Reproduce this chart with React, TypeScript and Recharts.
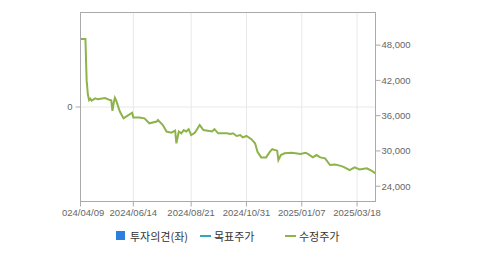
import React from "react";
import {
  LineChart,
  Line,
  XAxis,
  YAxis,
  CartesianGrid,
  ReferenceArea,
} from "recharts";

// trading-day index since 2024/04/09
const tradingDays = [
  0, 4, 5, 6, 7, 8, 9, 12, 14, 20, 24, 25, 26, 27, 28, 29, 32, 35, 39, 42, 43,
  48, 52, 56, 62, 63, 67, 70, 74, 77, 78, 80, 82, 84, 86, 88, 90, 93, 97, 100,
  107, 109, 112, 119, 122, 124, 127, 130, 132, 135, 139, 142, 144, 147, 151,
  154, 156, 160, 161, 163, 166, 172, 179, 183, 185, 189, 192, 195, 199, 203,
  207, 211, 214, 219, 223, 227, 233, 237, 240,
];

// 수정주가 (adjusted price)
const adjustedPrice = [
  49050, 49050, 42000, 39600, 38650, 38900, 38550, 38950, 38780, 39000, 38650,
  38600, 36800, 38200, 39050, 38600, 36700, 35550, 36100, 36500, 35700, 35700,
  35550, 34700, 35000, 35250, 34400, 33300, 33100, 33450, 31300, 33300, 33000,
  33550, 33300, 33700, 32700, 33100, 34400, 33550, 33300, 33700, 33000, 33000,
  32900, 33000, 32550, 32700, 32300, 32550, 32000, 31300, 29850, 28900, 28900,
  29850, 30300, 30050, 28450, 29300, 29600, 29700, 29500, 29700, 29500, 28900,
  29300, 28900, 28750, 27600, 27700, 27500, 27300, 26750, 27200, 26850, 27050,
  26600, 26200,
];

const xTickDays = [0, 43, 90, 135, 180, 225];
const xTickLabels = [
  "2024/04/09",
  "2024/06/14",
  "2024/08/21",
  "2024/10/31",
  "2025/01/07",
  "2025/03/18",
];
const priceTicks = [24000, 30000, 36000, 42000, 48000];
const opinionTicks = [0];

const legendNames = ["투자의견(좌)", "목표주가", "수정주가"];
const legendColors = ["#2D7FDF", "#2FA8B8", "#8DB34A"];

const data = tradingDays.map((d, i) => ({
  day: d,
  price: adjustedPrice[i],
  target: null as number | null,
  opinion: 0,
}));

const fmt = (v: number) =>
  String(v).replace(/\B(?=(\d{3})+(?!\d))/g, ",");

const tickStyle = {
  fontFamily: "'Liberation Sans', Arial, sans-serif",
  fontSize: 9.5,
  fill: "#666",
};

export default function App() {
  const legendLeft = [116, 200, 285];
  return (
    <div
      style={{
        position: "absolute",
        left: 0,
        top: 0,
        width: 479,
        height: 255,
        background: "#fff",
      }}
    >
      <div
        style={{
          position: "absolute",
          left: 62,
          top: 0,
          width: 417,
          height: 255,
          overflow: "hidden",
        }}
      >
        <div style={{ position: "absolute", left: -2, top: 0, width: 419, height: 255 }}>
          <LineChart
            width={419}
            height={255}
            data={data}
            margin={{ top: 12.5, right: 43.5, left: 0, bottom: 23.5 }}
          >
            <CartesianGrid
              xAxisId={0}
              yAxisId="left"
              stroke="#e8e8e8"
              fill="none"
              horizontalValues={opinionTicks}
              verticalValues={xTickDays}
            />
            <XAxis
              dataKey="day"
              type="number"
              domain={[0, 240]}
              ticks={xTickDays}
              tickFormatter={(v: number) => xTickLabels[xTickDays.indexOf(v)] ?? ""}
              height={30}
              tickSize={5}
              tickMargin={3}
              stroke="#aaa"
              tick={tickStyle}
              interval={0}
              allowDataOverflow
            />
            <YAxis
              yAxisId="left"
              orientation="left"
              type="number"
              domain={[-1, 1]}
              ticks={opinionTicks}
              interval={0}
              width={20.5}
              tickSize={5}
              tickMargin={3}
              stroke="#aaa"
              tick={tickStyle}
              allowDataOverflow
            />
            <YAxis
              yAxisId="right"
              orientation="right"
              type="number"
              domain={[21400, 53550]}
              ticks={priceTicks}
              tickFormatter={fmt}
              width={60}
              tickSize={5}
              tickMargin={1}
              stroke="#aaa"
              tick={tickStyle}
              allowDataOverflow
            />
            <ReferenceArea
              yAxisId="left"
              x1={0}
              x2={240}
              y1={-1}
              y2={1}
              fill="none"
              stroke="#aaa"
              strokeWidth={1}
            />
            <Line
              yAxisId="left"
              dataKey="opinion"
              stroke="none"
              strokeWidth={0}
              dot={false}
              legendType="none"
              isAnimationActive={false}
            />
            <Line
              yAxisId="right"
              dataKey="target"
              stroke={legendColors[1]}
              strokeWidth={2}
              dot={false}
              isAnimationActive={false}
            />
            <Line
              yAxisId="right"
              type="linear"
              dataKey="price"
              stroke={legendColors[2]}
              strokeWidth={2}
              dot={false}
              isAnimationActive={false}
            />
          </LineChart>
        </div>
      </div>
      {legendNames.map((name, i) => (
        <div
          key={name}
          style={{
            position: "absolute",
            left: legendLeft[i],
            top: 228,
            height: 15,
            display: "flex",
            alignItems: "center",
            fontFamily: "'Noto Sans CJK KR', sans-serif",
            fontSize: 11,
            color: "#333",
            whiteSpace: "nowrap",
          }}
        >
          {i === 0 ? (
            <span
              style={{
                display: "inline-block",
                width: 9,
                height: 9,
                background: legendColors[i],
                marginRight: 5,
              }}
            />
          ) : (
            <span
              style={{
                display: "inline-block",
                width: 11,
                height: 2,
                background: legendColors[i],
                marginRight: 3,
              }}
            />
          )}
          <span>{name}</span>
        </div>
      ))}
    </div>
  );
}
